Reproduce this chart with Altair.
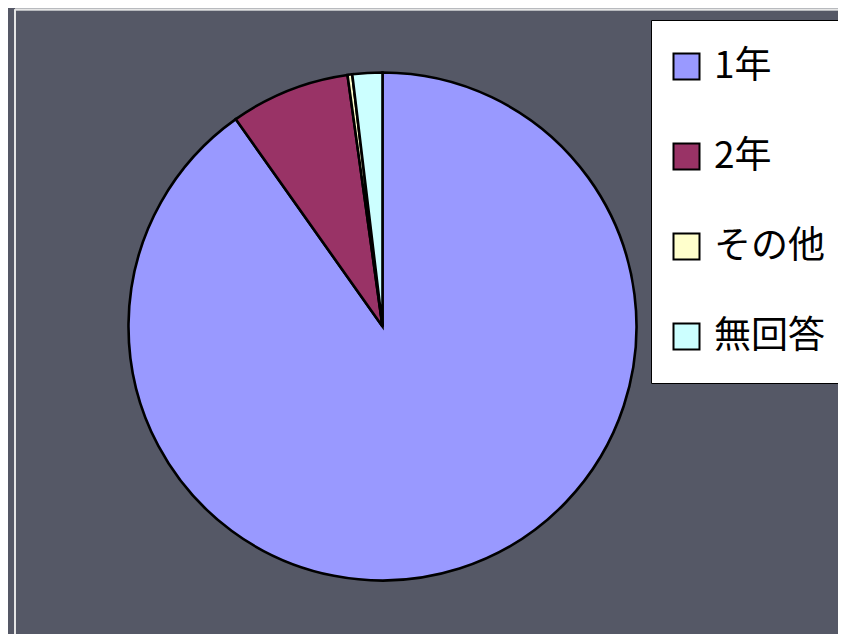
import altair as alt
import pandas as pd

categories = ["1年", "2年", "その他", "無回答"]
shares = [90.2, 7.6, 0.3, 1.9]
colors = ["#9999FF", "#993366", "#FFFFCC", "#CCFFFF"]

df = pd.DataFrame({"cat": categories, "share": shares, "idx": list(range(len(categories)))})

BG = "#555866"

pie = alt.Chart(df).mark_arc(radius=254, stroke="black", strokeWidth=2.6).encode(
    theta=alt.Theta("share:Q", stack=True),
    order=alt.Order("idx:Q"),
    color=alt.Color(
        "cat:N",
        scale=alt.Scale(domain=categories, range=colors),
        sort=categories,
        legend=alt.Legend(
            title=None,
            orient="none",
            legendX=643,
            legendY=12,
            direction="vertical",
            symbolType="square",
            symbolSize=676,
            symbolStrokeColor="black",
            symbolStrokeWidth=2,
            symbolOffset=-11,
            labelFontSize=37,
            labelFont="Noto Sans CJK JP",
            labelColor="black",
            labelLimit=400,
            labelOffset=9,
            rowPadding=52,
            padding=28,
            fillColor="white",
            strokeColor="black",
        ),
    ),
    x=alt.value(374.5),
    y=alt.value(318.5),
)

frame_h = alt.Chart(df).mark_rule(color="#e6e6e6", strokeWidth=1.5).encode(
    x=alt.value(7), x2=alt.value(840), y=alt.value(1.5)
)
frame_v = alt.Chart(df).mark_rule(color="#e6e6e6", strokeWidth=1.5).encode(
    x=alt.value(7), y=alt.value(1.5), y2=alt.value(640)
)

chart = alt.layer(frame_h, frame_v, pie).properties(
    width=830,
    height=626,
    padding=0,
    autosize=alt.AutoSizeParams(type="none"),
    background=BG,
).configure_view(stroke=None)

chart.save("out.html", embed_options={"renderer": "svg", "actions": False})
